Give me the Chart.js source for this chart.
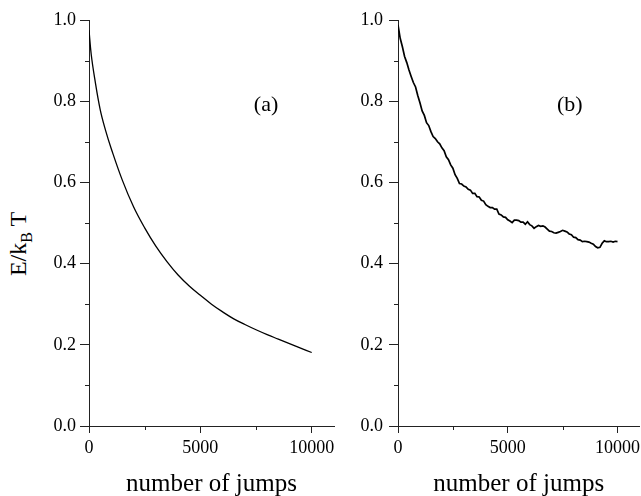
<!DOCTYPE html>
<html>
<head>
<meta charset="utf-8">
<script src="https://cdn.jsdelivr.net/npm/chart.js@4"></script>
<style>
  body { margin: 0; background: #fff; width: 641px; height: 496px; overflow: hidden; position: relative; }
  canvas { position: absolute; top: 0; }
  #chartA { left: 0; }
  #chartB { left: 333px; }
  #ytitle {
    position: absolute; left: 20px; top: 244px;
    transform: translate(-50%, -50%) rotate(-90deg);
    font: 24px "Liberation Serif", "Times New Roman", serif;
    line-height: 1; white-space: nowrap; color: #000;
  }
  #ytitle sub { font-size: 16px; vertical-align: -6px; }
</style>
</head>
<body>
<div id="ytitle">E/k<sub>B</sub> T</div>
<canvas id="chartA" width="340" height="496"></canvas>
<canvas id="chartB" width="311" height="496"></canvas>
<script>
// panel (a): smooth decay
const jumpsA = [0, 100, 250, 500, 750, 1000, 1500, 2000, 2500, 3000, 3500, 4000,
  4500, 5000, 5500, 6000, 6500, 7000, 7500, 8000, 8500, 9000, 9500, 10000];
const energyA = [0.975, 0.915, 0.858, 0.780, 0.727, 0.683, 0.605, 0.540, 0.488, 0.443, 0.405, 0.372,
  0.345, 0.322, 0.300, 0.281, 0.264, 0.250, 0.237, 0.225, 0.214, 0.203, 0.192, 0.181];

// panel (b): noisy decay
const jumpsB = [0, 100, 200, 300, 400, 500, 600, 700, 800, 900,
  1000, 1100, 1200, 1300, 1400, 1500, 1600, 1700, 1800, 1900,
  2000, 2100, 2200, 2300, 2400, 2500, 2600, 2700, 2800, 2900,
  3000, 3100, 3200, 3300, 3400, 3500, 3600, 3700, 3800, 3900,
  4000, 4100, 4200, 4300, 4400, 4500, 4600, 4700, 4800, 4900,
  5000, 5100, 5200, 5300, 5400, 5500, 5600, 5700, 5800, 5900,
  6000, 6100, 6200, 6300, 6400, 6500, 6600, 6700, 6800, 6900,
  7000, 7100, 7200, 7300, 7400, 7500, 7600, 7700, 7800, 7900,
  8000, 8100, 8200, 8300, 8400, 8500, 8600, 8700, 8800, 8900,
  9000, 9100, 9200, 9300, 9400, 9500, 9600, 9700, 9800, 9900,
  10000];
const energyB = [0.988, 0.955, 0.934, 0.910, 0.895, 0.877, 0.861, 0.846, 0.835, 0.814,
  0.796, 0.776, 0.765, 0.747, 0.740, 0.725, 0.713, 0.708, 0.700, 0.695,
  0.685, 0.678, 0.663, 0.656, 0.643, 0.635, 0.619, 0.610, 0.597, 0.596,
  0.591, 0.589, 0.583, 0.581, 0.573, 0.573, 0.565, 0.564, 0.556, 0.554,
  0.545, 0.541, 0.538, 0.538, 0.534, 0.534, 0.522, 0.520, 0.515, 0.514,
  0.508, 0.505, 0.501, 0.507, 0.507, 0.506, 0.502, 0.502, 0.497, 0.503,
  0.496, 0.493, 0.487, 0.491, 0.494, 0.492, 0.493, 0.490, 0.485, 0.480,
  0.479, 0.476, 0.475, 0.477, 0.479, 0.482, 0.480, 0.478, 0.473, 0.471,
  0.465, 0.464, 0.459, 0.458, 0.454, 0.455, 0.454, 0.453, 0.450, 0.448,
  0.442, 0.439, 0.440, 0.450, 0.456, 0.454, 0.454, 0.455, 0.453, 0.455,
  0.454];

const xMajor = [0, 5000, 10000];
const xMinor = [2500, 7500];
const yMajor = [0, 0.2, 0.4, 0.6, 0.8, 1.0];
const yMinor = [0.1, 0.3, 0.5, 0.7, 0.9];

const serif = '"Liberation Serif", "Times New Roman", serif';
const axisColor = '#222';

// short minor tick marks, the library draws the long major ones
const minorTicks = {
  id: 'minorTicks',
  afterDraw(chart) {
    const { ctx, scales: { x, y } } = chart;
    ctx.save();
    ctx.strokeStyle = axisColor;
    ctx.lineWidth = 1;
    ctx.beginPath();
    xMinor.forEach((v) => {
      const px = Math.round(x.getPixelForValue(v)) + 0.5;
      ctx.moveTo(px, y.bottom);
      ctx.lineTo(px, y.bottom + 4);
    });
    yMinor.forEach((v) => {
      const py = Math.round(y.getPixelForValue(v)) + 0.5;
      ctx.moveTo(x.left, py);
      ctx.lineTo(x.left - 4, py);
    });
    ctx.stroke();
    ctx.restore();
  },
};

const panelLabel = {
  id: 'panelLabel',
  afterDatasetsDraw(chart, args, opts) {
    const { ctx, scales: { x, y } } = chart;
    ctx.save();
    ctx.font = '22px ' + serif;
    ctx.fillStyle = '#000';
    ctx.textAlign = 'center';
    ctx.textBaseline = 'middle';
    ctx.fillText(opts.text, x.getPixelForValue(opts.x), y.getPixelForValue(opts.y));
    ctx.restore();
  },
};

function makeChart(id, jumps, energy, opts) {
  const ctx = document.getElementById(id).getContext('2d');
  return new Chart(ctx, {
    type: 'line',
    data: {
      datasets: [{
        data: jumps.map((j, i) => ({ x: j, y: energy[i] })),
        borderColor: '#000',
        borderWidth: opts.lineWidth,
        pointRadius: 0,
        tension: opts.tension,
        fill: false,
      }],
    },
    options: {
      responsive: false,
      animation: false,
      layout: { padding: { left: 0, top: 20, right: opts.padRight, bottom: 0 } },
      plugins: {
        legend: { display: false },
        tooltip: { enabled: false },
        panelLabel: opts.label,
      },
      scales: {
        x: {
          type: 'linear',
          min: 0,
          max: 11000,
          afterBuildTicks: (s) => { s.ticks = xMajor.map((v) => ({ value: v })); },
          afterFit: (s) => { s.height = 70; },
          border: { display: true, color: axisColor, width: 1 },
          grid: { drawOnChartArea: false, tickLength: 7, tickColor: axisColor },
          ticks: {
            autoSkip: false,
            maxRotation: 0,
            padding: 4,
            color: '#000',
            font: { family: serif, size: 18 },
            callback: (v) => String(v),
          },
          title: {
            display: true,
            text: 'number of jumps',
            color: '#000',
            font: { family: serif, size: 25 },
            padding: { top: 0, bottom: -3 },
          },
        },
        y: {
          min: 0,
          max: 1,
          afterBuildTicks: (s) => { s.ticks = yMajor.map((v) => ({ value: v })); },
          afterFit: (s) => { s.width = opts.yWidth; },
          border: { display: true, color: axisColor, width: 1 },
          grid: { drawOnChartArea: false, tickLength: 9, tickColor: axisColor },
          ticks: {
            padding: opts.yPad,
            color: '#000',
            font: { family: serif, size: 18 },
            callback: (v) => v.toFixed(1),
          },
        },
      },
    },
    plugins: [minorTicks, panelLabel],
  });
}

makeChart('chartA', jumpsA, energyA, {
  lineWidth: 1.3, tension: 0.4, padRight: 6, yWidth: 89, yPad: 4,
  label: { text: '(a)', x: 7950, y: 0.79 },
});
makeChart('chartB', jumpsB, energyB, {
  lineWidth: 1.7, tension: 0, padRight: 0, yWidth: 65, yPad: 6,
  label: { text: '(b)', x: 7830, y: 0.79 },
});
</script>
</body>
</html>
